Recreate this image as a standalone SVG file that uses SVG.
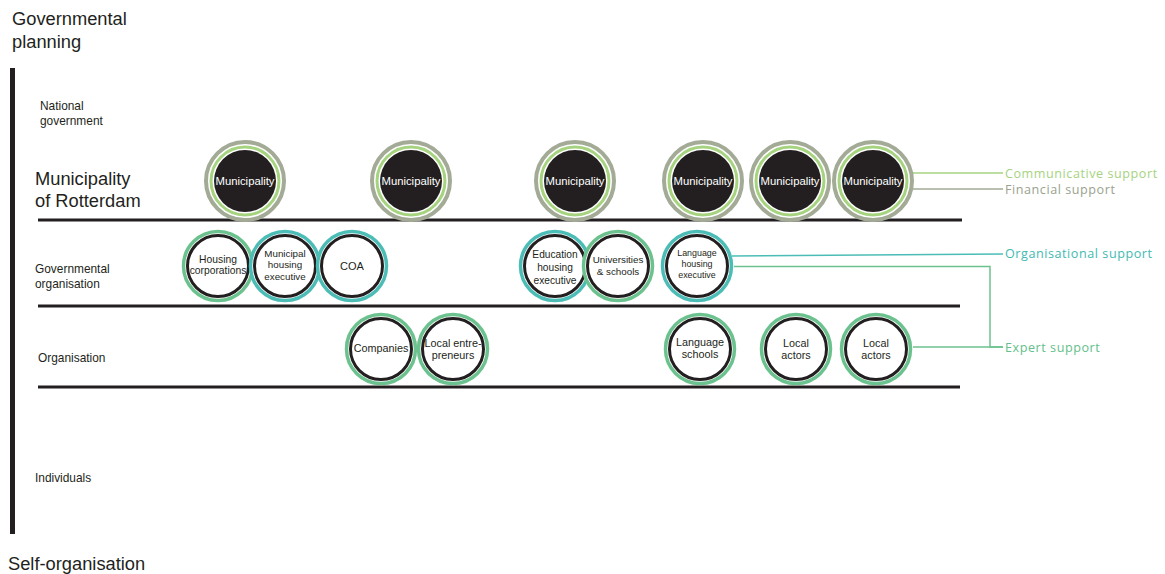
<svg xmlns="http://www.w3.org/2000/svg" width="1165" height="574" viewBox="0 0 1165 574">
<style>
text{font-family:"Liberation Sans",Arial,sans-serif;fill:#231f20}
.big{font-size:18.3px}
.sm{font-size:11.9px}
.lvl{stroke:#231f20;stroke-width:3}
.fin{fill:#fff;stroke:#a3ab97;stroke-width:4}
.com{fill:none;stroke:#a6d37f;stroke-width:3}
.blk{fill:#231f20}
.mt{font-size:11.3px;fill:#fff;text-anchor:middle}
.org{fill:#fff;stroke:#4cbdb6;stroke-width:3.5}
.exp{fill:#fff;stroke:#6cc28e;stroke-width:3.5}
.inn{fill:#fff;stroke:#231f20;stroke-width:3}
.nt{font-size:9.8px;text-anchor:middle}
.nt3{font-size:10.8px;text-anchor:middle}
.lab{font-family:"Open Sans","Noto Sans",sans-serif;font-size:12.6px;letter-spacing:0.55px}
.c-com{stroke:#a6d37f;stroke-width:1.5;fill:none}
.c-fin{stroke:#a3ab97;stroke-width:1.5;fill:none}
.c-org{stroke:#4cbdb6;stroke-width:1.5;fill:none}
.c-exp{stroke:#6cc28e;stroke-width:1.5;fill:none}
</style>
<g id="axis">
<rect x="10" y="68" width="5" height="466" fill="#231f20"/>
<text class="big" x="12" y="25">Governmental</text>
<text class="big" x="12" y="48">planning</text>
<text class="big" x="8" y="570">Self-organisation</text>
</g>
<g id="levels">
<line class="lvl" x1="38" y1="220" x2="962" y2="220"/>
<line class="lvl" x1="38" y1="306" x2="960" y2="306"/>
<line class="lvl" x1="38" y1="387" x2="960" y2="387"/>
<text class="sm" x="40" y="110">National</text>
<text class="sm" x="40" y="125">government</text>
<text class="big" x="35" y="185">Municipality</text>
<text class="big" x="35" y="207">of Rotterdam</text>
<text class="sm" x="35" y="273">Governmental</text>
<text class="sm" x="35" y="288">organisation</text>
<text class="sm" x="38" y="362">Organisation</text>
<text class="sm" x="35" y="482">Individuals</text>
</g>
<g id="connectors">
<line class="c-com" x1="913" y1="173" x2="1003" y2="173"/>
<line class="c-fin" x1="911" y1="189" x2="1003" y2="189"/>
<line class="c-org" x1="732" y1="256" x2="1003" y2="254"/>
<polyline class="c-exp" points="734,266.5 990,266.5 990,347 1003,347"/>
<line class="c-exp" x1="913" y1="347" x2="1003" y2="347"/>
</g>
<g id="labels">
<text class="lab" x="1005" y="177.5" style="fill:#a6d37f">Communicative support</text>
<text class="lab" x="1005" y="194" style="fill:#9aa28e">Financial support</text>
<text class="lab" x="1005" y="258" style="fill:#3fbab2">Organisational support</text>
<text class="lab" x="1005" y="352" style="fill:#63c08a">Expert support</text>
</g>
<g id="mun1" transform="translate(245,181)"><circle class="fin" r="39"/><circle class="com" r="34"/><circle class="blk" r="31"/><text class="mt" y="4">Municipality</text></g>
<g id="mun2" transform="translate(411,181)"><circle class="fin" r="39"/><circle class="com" r="34"/><circle class="blk" r="31"/><text class="mt" y="4">Municipality</text></g>
<g id="mun3" transform="translate(575,181)"><circle class="fin" r="39"/><circle class="com" r="34"/><circle class="blk" r="31"/><text class="mt" y="4">Municipality</text></g>
<g id="mun4" transform="translate(703,181)"><circle class="fin" r="39"/><circle class="com" r="34"/><circle class="blk" r="31"/><text class="mt" y="4">Municipality</text></g>
<g id="mun5" transform="translate(790,181)"><circle class="fin" r="39"/><circle class="com" r="34"/><circle class="blk" r="31"/><text class="mt" y="4">Municipality</text></g>
<g id="mun6" transform="translate(873,181)"><circle class="fin" r="39"/><circle class="com" r="34"/><circle class="blk" r="31"/><text class="mt" y="4">Municipality</text></g>
<g id="housing-corporations" transform="translate(218,266)"><circle class="exp" r="34.5"/><circle class="inn" r="30.5"/><text class="nt" y="-3" style="font-size:10.3px">Housing</text><text class="nt" y="8" style="font-size:10.3px">corporations</text></g>
<g id="municipal-housing-executive" transform="translate(285,266)"><circle class="org" r="34.5"/><circle class="inn" r="30.5"/><text class="nt" y="-9">Municipal</text><text class="nt" y="2">housing</text><text class="nt" y="14">executive</text></g>
<g id="coa" transform="translate(352,266)"><circle class="org" r="34.5"/><circle class="inn" r="30.5"/><text class="nt" y="4" style="font-size:11px">COA</text></g>
<g id="education-housing-executive" transform="translate(555,266)"><circle class="org" r="34.5"/><circle class="inn" r="30.5"/><text class="nt" y="-8" style="font-size:10.2px">Education</text><text class="nt" y="5" style="font-size:10.2px">housing</text><text class="nt" y="18" style="font-size:10.2px">executive</text></g>
<g id="universities-schools" transform="translate(618,266)"><circle class="exp" r="34.5"/><circle class="inn" r="30.5"/><text class="nt" y="-3">Universities</text><text class="nt" y="9">&amp; schools</text></g>
<g id="language-housing-executive" transform="translate(697,266)"><circle class="org" r="34.5"/><circle class="inn" r="30.5"/><text class="nt" y="-10" style="font-size:8.9px">Language</text><text class="nt" y="1" style="font-size:8.9px">housing</text><text class="nt" y="12" style="font-size:8.9px">executive</text></g>
<g id="companies" transform="translate(381,349)"><circle class="exp" r="34.5"/><circle class="inn" r="30.5"/><text class="nt3" y="3">Companies</text></g>
<g id="local-entrepreneurs" transform="translate(453,349)"><circle class="exp" r="34.5"/><circle class="inn" r="30.5"/><text class="nt3" y="-2">Local entre-</text><text class="nt3" y="10">preneurs</text></g>
<g id="language-schools" transform="translate(700,349)"><circle class="exp" r="34.5"/><circle class="inn" r="30.5"/><text class="nt3" y="-3">Language</text><text class="nt3" y="9">schools</text></g>
<g id="local-actors-1" transform="translate(796,349)"><circle class="exp" r="34.5"/><circle class="inn" r="30.5"/><text class="nt3" y="-2">Local</text><text class="nt3" y="10">actors</text></g>
<g id="local-actors-2" transform="translate(876,349)"><circle class="exp" r="34.5"/><circle class="inn" r="30.5"/><text class="nt3" y="-2">Local</text><text class="nt3" y="10">actors</text></g>
</svg>
